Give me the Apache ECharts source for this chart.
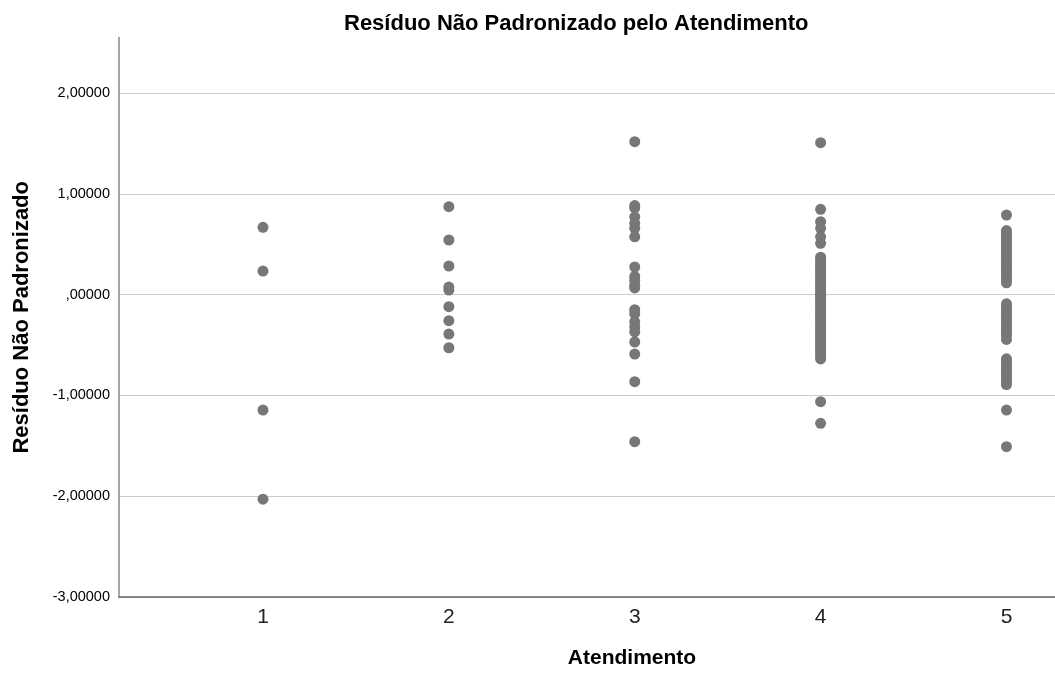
<!DOCTYPE html>
<html>
<head>
<meta charset="utf-8">
<title>Resíduo Não Padronizado pelo Atendimento</title>
<script src="https://cdn.jsdelivr.net/npm/echarts@6/dist/echarts.min.js"></script>
<style>
  html, body { margin: 0; padding: 0; background: #ffffff; }
  #chart { width: 1055px; height: 677px; }
</style>
</head>
<body>
<div id="chart"></div>
<script>
// Atendimento levels shown on the horizontal axis
const categories = [1, 2, 3, 4, 5];

// Unstandardized residuals for each Atendimento level
const residuos1 = [0.668, 0.234, -1.145, -2.03];
const residuos2 = [0.872, 0.542, 0.284, 0.075, 0.045, -0.12, -0.259, -0.391, -0.527];
const residuos3 = [1.517, 0.884, 0.86, 0.77, 0.707, 0.658, 0.574,
  0.274, 0.18, 0.14, 0.09, 0.066,
  -0.15, -0.19, -0.27, -0.32, -0.37, -0.47, -0.59,
  -0.864, -1.459];
const residuos4 = [1.507, 0.846, 0.723, 0.658, 0.574, 0.509,
  0.372, 0.345, 0.318, 0.29, 0.262, 0.241, 0.215, 0.19, 0.163, 0.14,
  0.118, 0.09, 0.068, 0.042, 0.018, -0.006, -0.031, -0.055, -0.08, -0.104,
  -0.127, -0.151, -0.178, -0.2, -0.226, -0.25, -0.272, -0.298, -0.322, -0.347,
  -0.37, -0.393, -0.418, -0.442, -0.466, -0.49, -0.515, -0.538, -0.561, -0.585,
  -0.612, -0.638,
  -1.062, -1.277];
const residuos5 = [0.79,
  0.636, 0.61, 0.583, 0.555, 0.528, 0.5, 0.472, 0.447, 0.42, 0.392,
  0.366, 0.34, 0.311, 0.285, 0.258, 0.232, 0.205, 0.177, 0.15, 0.117,
  -0.091, -0.12, -0.148, -0.176, -0.205, -0.232, -0.262, -0.29, -0.318,
  -0.347, -0.374, -0.403, -0.445,
  -0.637, -0.665, -0.695, -0.722, -0.75, -0.78, -0.81, -0.838, -0.865, -0.892,
  -1.145, -1.509];

// Tick values of the residual axis
const yTicks = [-3, -2, -1, 0, 1, 2];

const groups = [residuos1, residuos2, residuos3, residuos4, residuos5];
const points = [];
groups.forEach(function (vals, i) {
  vals.forEach(function (v) { points.push([categories[i], v]); });
});

// SPSS-style number format: comma decimal, five places, no leading zero
function fmt(v) {
  let s = Math.abs(v).toFixed(5).replace('.', ',');
  if (s.charAt(0) === '0') s = s.slice(1);
  return (v < 0 ? '-' : '') + s;
}

const chart = echarts.init(document.getElementById('chart'), null, { renderer: 'canvas' });

chart.setOption({
  backgroundColor: '#ffffff',
  animation: false,
  textStyle: { fontFamily: 'Liberation Sans, Arial, sans-serif' },
  title: {
    text: 'Resíduo Não Padronizado pelo Atendimento',
    left: 339,
    top: 8,
    textStyle: { fontSize: 22, fontWeight: 'bold', color: '#000000', fontFamily: 'Liberation Sans, Arial, sans-serif' }
  },
  grid: { left: 119, right: 0, top: 37.6, bottom: 80, containLabel: false },
  xAxis: {
    type: 'value',
    min: 0.2254,
    max: 5.261,
    name: 'Atendimento',
    nameLocation: 'middle',
    nameGap: 51,
    nameTextStyle: { fontSize: 21, fontWeight: 'bold', color: '#000000', padding: [0, 0, 0, 90] },
    axisLine: { show: true, onZero: false, lineStyle: { color: '#666666', width: 1.5 } },
    axisTick: { show: false, customValues: categories },
    splitLine: { show: false },
    axisLabel: {
      customValues: categories,
      fontSize: 21,
      color: '#222222',
      margin: 10,
      formatter: function (v) { return String(v); }
    }
  },
  yAxis: {
    type: 'value',
    min: -3,
    max: 2.55,
    name: 'Resíduo Não Padronizado',
    nameLocation: 'middle',
    nameGap: 86,
    nameTextStyle: { fontSize: 22, fontWeight: 'bold', color: '#000000' },
    axisLine: { show: true, lineStyle: { color: '#888888', width: 1.5 } },
    axisTick: { show: false, customValues: yTicks },
    splitLine: { show: true, lineStyle: { color: '#cccccc', width: 1.2 } },
    axisLabel: {
      customValues: yTicks,
      fontSize: 14.5,
      color: '#000000',
      margin: 9,
      formatter: fmt
    }
  },
  series: [{
    type: 'scatter',
    data: points,
    symbol: 'circle',
    symbolSize: 11,
    itemStyle: { color: '#777777', opacity: 1 },
    silent: true
  }]
});
</script>
</body>
</html>
